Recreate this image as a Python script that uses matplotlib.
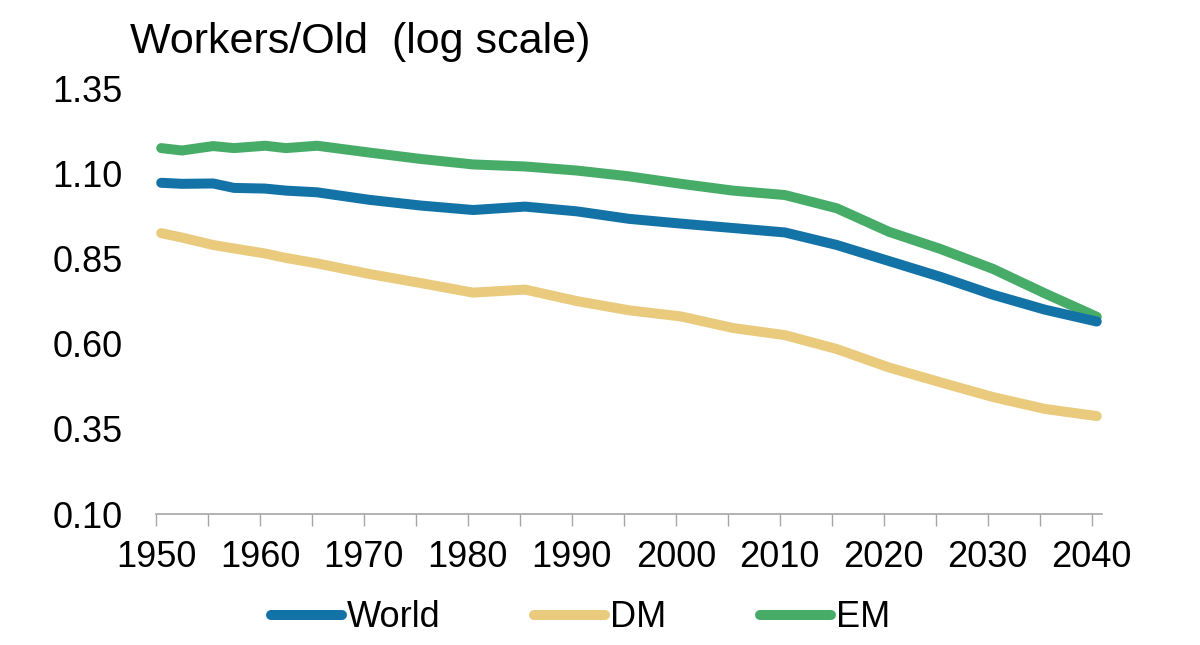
import matplotlib
matplotlib.use("Agg")
import matplotlib.pyplot as plt

years = [1950, 1952, 1955, 1957, 1960, 1962, 1965, 1970, 1975, 1980, 1985, 1990,
         1995, 2000, 2005, 2010, 2015, 2020, 2025, 2030, 2035, 2040]
world = [1.074, 1.071, 1.072, 1.059, 1.057, 1.051, 1.046, 1.024, 1.007, 0.994, 1.004, 0.990,
         0.968, 0.954, 0.941, 0.928, 0.891, 0.844, 0.797, 0.745, 0.701, 0.666]
dm = [0.926, 0.913, 0.891, 0.881, 0.866, 0.853, 0.837, 0.806, 0.779, 0.751, 0.760, 0.726,
      0.699, 0.681, 0.647, 0.626, 0.585, 0.531, 0.487, 0.444, 0.409, 0.388]
em = [1.176, 1.169, 1.182, 1.176, 1.183, 1.176, 1.183, 1.163, 1.144, 1.128, 1.122, 1.110,
      1.093, 1.071, 1.051, 1.038, 0.999, 0.930, 0.879, 0.821, 0.749, 0.680]

series_names = ["World", "DM", "EM"]
colors = ["#1373A6", "#EACB7E", "#48AC69"]
yticks = [0.10, 0.35, 0.60, 0.85, 1.10, 1.35]
xticks_minor = list(range(1950, 2041, 5))
title = "Workers/Old  (log scale)"

fam = ["Liberation Sans", "DejaVu Sans"]
fs = 26

fig = plt.figure(figsize=(12, 6.45), dpi=100)
ax = fig.add_axes([0.13, 0.2031, 0.7883, 0.659])

x_mid = [y + 0.5 for y in years]  # annual values plotted at mid-year
lines = []
for vals, name, c in zip([world, dm, em], series_names, colors):
    ln, = ax.plot(x_mid, vals, color=c, lw=7.2, solid_capstyle="round",
                  solid_joinstyle="round", label=name)
    lines.append(ln)
lines[0].set_zorder(3)
lines[2].set_zorder(2)

ax.set_xlim(1950, 2041)
ax.set_ylim(0.10, 1.35)
ax.set_yticks(yticks)
ax.set_yticklabels([f"{v:.2f}" for v in yticks], fontfamily=fam, fontsize=fs)
ax.set_xticks(xticks_minor)
ax.set_xticklabels([str(y) if y % 10 == 0 else "" for y in xticks_minor],
                   fontfamily=fam, fontsize=fs)

for s in ["left", "right", "top"]:
    ax.spines[s].set_visible(False)
ax.spines["bottom"].set_color("#A6A6A6")
ax.spines["bottom"].set_linewidth(1.2)
ax.tick_params(axis="y", length=0, pad=24)
ax.tick_params(axis="x", length=8.6, width=1.0, color="#A6A6A6", pad=10)

fig.text(130 / 1200, 1 - 53 / 645, title, fontsize=31, fontfamily=fam,
         ha="left", va="baseline")

leg = fig.legend(handles=lines, labels=series_names, loc="center",
                 bbox_to_anchor=(0.484, 0.042), ncol=3, frameon=False,
                 prop={"family": fam, "size": fs}, handlelength=1.95,
                 handletextpad=0.15, columnspacing=2.6, borderaxespad=0)
for h in leg.legend_handles:
    h.set_linewidth(7.2)
    h.set_solid_capstyle("round")

fig.savefig("out.png", dpi=100)
